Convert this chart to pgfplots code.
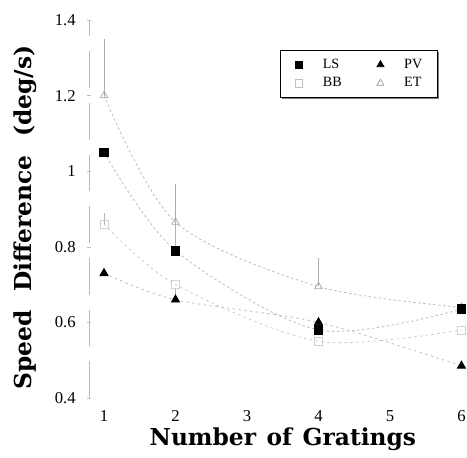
\documentclass[border=0pt]{standalone}
\usepackage{fontspec}
\setmainfont{Liberation Serif}
\newfontfamily\labelfont{DejaVu Serif}
\usepackage{pgfplots}
\pgfplotsset{compat=1.18}
\usetikzlibrary{shadows}

\pgfplotstableread{
x  y     ep
1  1.05  0
2  0.79  0.08
4  0.58  0
6  0.635 0
}\LS
\pgfplotstableread{
x  y     ep
1  0.73  0
2  0.66  0.03
4  0.60  0
6  0.485 0
}\PV
\pgfplotstableread{
x  y     ep
1  0.86  0.03
2  0.70  0
4  0.55  0
6  0.58  0
}\BB
\pgfplotstableread{
x  y     ep
1  1.20  0.15
2  0.865 0.10
4  0.695 0.075
6  0.64  0
}\ET

\begin{document}
\begin{tikzpicture}
\useasboundingbox (-53.4pt,-35.4pt) rectangle (226.8pt,238.8pt);
\begin{axis}[
  at={(0,0)}, anchor=south west,
  scale only axis,
  width=226.8pt, height=226.8pt,
  xmin=0.79, xmax=6.077,
  ymin=0.4, ymax=1.4,
  axis lines=left,
  x axis line style={draw=none, -},
  y axis line style={draw=gray!55, -, dash pattern=on 22pt off 9pt},
  xtick={1,2,3,4,5,6},
  ytick={0.4,0.6,0.8,1,1.2,1.4},
  yticklabels={0.4,0.6,0.8,1,1.2,1.4},
  tick style={draw=gray!50},
  major tick length=2pt,
  x tick style={draw=none},
  tick label style={font=\fontsize{10}{12}\selectfont},
  /pgf/number format/assume math mode=true,
  xticklabel style={yshift=-3pt},
  yticklabel style={xshift=-3.5pt},
  clip=false,
  legend columns=2,
  legend cell align=left,
  legend image code/.code={\path (0pt,0pt) (16pt,0pt); \draw[#1] plot coordinates {(4pt,0pt)};},
  legend style={
    at={(0.923,0.921)}, anchor=north east,
    draw=black, line width=0.7pt, fill=white,
    drop shadow={shadow xshift=1.2pt, shadow yshift=-1.2pt, fill=black},
    font=\fontsize{8.5}{9}\selectfont,
    inner xsep=7pt, inner ysep=3pt,
    /tikz/every even column/.append style={column sep=17pt},
    row sep=0pt,
  },
  every axis plot/.append style={line width=0.5pt},
]
% legend images
\addlegendimage{only marks, mark=square*, mark size=2.2pt, black}
\addlegendentry{LS}
\addlegendimage{only marks, mark=triangle*, mark size=2.4pt, black}
\addlegendentry{PV}
\addlegendimage{only marks, mark=square, mark size=2.2pt, gray!50, line width=0.4pt}
\addlegendentry{BB}
\addlegendimage{only marks, mark=triangle, mark size=2.4pt, gray!80, line width=0.4pt}
\addlegendentry{ET}

% BB
\addplot[forget plot, gray!40, smooth, dash pattern=on 1.5pt off 2pt,
  mark=square, mark size=2.4pt, mark options={solid, gray!35, line width=0.4pt},
  error bars/.cd, y dir=plus, y explicit, error bar style={gray!60, solid}, error mark=none]
  table[x=x, y=y, y error=ep] {\BB};
% ET
\addplot[forget plot, gray!50, smooth, dash pattern=on 1.5pt off 1.5pt,
  mark=triangle, mark size=2.6pt, mark options={solid, gray!70, line width=0.4pt},
  error bars/.cd, y dir=plus, y explicit, error bar style={gray!65, solid, line width=0.6pt}, error mark=none]
  table[x=x, y=y, y error=ep] {\ET};
% PV
\addplot[forget plot, gray!50, smooth, dash pattern=on 1.5pt off 2pt,
  mark=triangle*, mark size=2.8pt, mark options={solid, black},
  error bars/.cd, y dir=plus, y explicit, error bar style={gray!60, solid}, error mark=none]
  table[x=x, y=y, y error=ep] {\PV};
% LS
\addplot[forget plot, gray!50, smooth, dash pattern=on 1.5pt off 1.5pt,
  mark=square*, mark size=2.6pt, mark options={solid, black},
  error bars/.cd, y dir=plus, y explicit, error bar style={gray!60, solid}, error mark=none]
  table[x=x, y=y, y error=ep] {\LS};

\node[rotate=90, font=\labelfont\bfseries\fontsize{14}{16}\selectfont]
  at ([xshift=-38.4pt]axis description cs:0,0.4775) {Speed\hspace{0.8em}Difference\hspace{0.8em}(deg/s)};
\node[font=\labelfont\bfseries\fontsize{14}{16}\selectfont]
  at ([yshift=-25pt]axis description cs:0.513,0) {Number\hspace{0.45em}of\hspace{0.45em}Gratings};
\end{axis}
\end{tikzpicture}
\end{document}
